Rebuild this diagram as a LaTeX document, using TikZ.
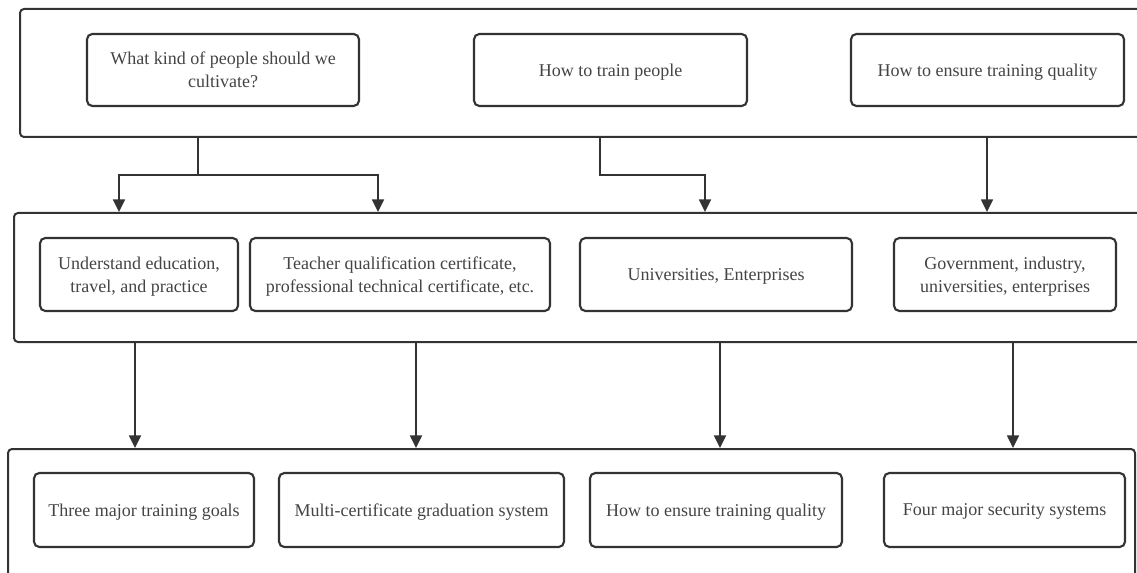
\documentclass[tikz,border=0pt]{standalone}
\usepackage{fontspec}
\setmainfont{Liberation Serif}
\usetikzlibrary{arrows.meta}
\definecolor{ln}{RGB}{51,51,51}
\definecolor{tx}{RGB}{68,68,68}
\begin{document}
\begin{tikzpicture}[x=0.75pt,y=-0.75pt,
  wh/.style 2 args={minimum width=#1*0.75pt, minimum height=#2*0.75pt},
  container/.style={draw=ln, line width=1.5pt, rounded corners=3pt, fill=white, inner sep=0pt},
  box/.style={draw=ln, line width=1.6pt, rounded corners=4pt, fill=white, inner sep=2pt,
    align=center, text=tx, text depth=0pt, font=\fontsize{13.5}{17.25}\selectfont},
  conn/.style={draw=ln, line width=1.2pt},
  arr/.style={conn, -{Triangle[length=9.5pt,width=9pt]}}]
\useasboundingbox (0,0) rectangle (1137,573);
\fill[white] (0,0) rectangle (1137,573);
\begin{scope}
\clip (0,0) rectangle (1137,573);
% containers
\node[container, wh={1130}{128}] (top) at (585,73) {};
\node[container, wh={1136}{129}] (mid) at (582,277.5) {};
\node[container, wh={1127}{151}] (bot) at (571.5,524.5) {};
% top boxes
\node[box, wh={272}{72}] (t1) at (223,70) {What kind of people should we\\cultivate?};
\node[box, wh={273}{72}] (t2) at (610.5,70) {How to train people};
\node[box, wh={273}{72}] (t3) at (987.5,70) {How to ensure training quality};
% middle boxes
\node[box, wh={198}{73}] (m1) at (139,274.5) {Understand education,\\travel, and practice};
\node[box, wh={300}{73}] (m2) at (400,274.5) {Teacher qualification certificate,\\professional technical certificate, etc.};
\node[box, wh={272}{73}] (m3) at (716,274.5) {Universities, Enterprises};
\node[box, wh={222}{73}] (m4) at (1005,274.5) {Government, industry,\\universities, enterprises};
% bottom boxes
\node[box, wh={220}{74}] (b1) at (144,510) {Three major training goals};
\node[box, wh={285}{74}] (b2) at (421.5,510) {Multi-certificate graduation system};
\node[box, wh={252}{74}] (b3) at (716,510) {How to ensure training quality};
\node[box, wh={241}{74}] (b4) at (1004.5,510) {Four major security systems};
% connector positions
\coordinate (j1) at (198,175);
\coordinate (l1) at (119,175);
\coordinate (r1) at (378,175);
\coordinate (j2) at (600,175);
\coordinate (r2) at (705,175);
\coordinate (j3) at (987,175);
\coordinate (k1) at (135,0);
\coordinate (k2) at (416,0);
\coordinate (k3) at (720,0);
\coordinate (k4) at (1013,0);
% top -> middle
\draw[conn] (top.south -| j1) -- (j1);
\draw[arr] (j1) -| (mid.north -| l1);
\draw[arr] (j1) -| (mid.north -| r1);
\draw[arr] (top.south -| j2) |- (r2) -- (mid.north -| r2);
\draw[arr] (top.south -| j3) -- (mid.north -| j3);
% middle -> bottom
\draw[arr] (mid.south -| k1) -- (bot.north -| k1);
\draw[arr] (mid.south -| k2) -- (bot.north -| k2);
\draw[arr] (mid.south -| k3) -- (bot.north -| k3);
\draw[arr] (mid.south -| k4) -- (bot.north -| k4);
\end{scope}
\end{tikzpicture}
\end{document}
